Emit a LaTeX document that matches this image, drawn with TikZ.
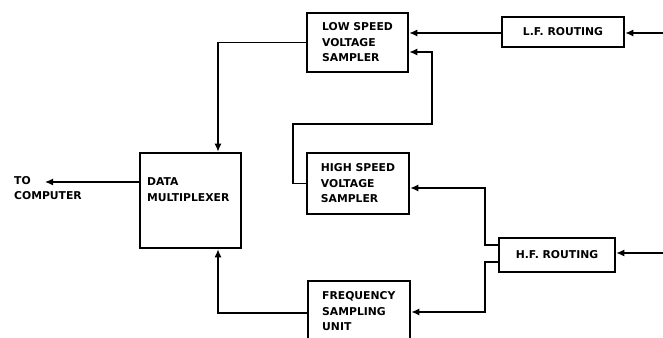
\documentclass[tikz,border=0pt]{standalone}
\usepackage{fontspec}
\setmainfont{DejaVu Sans}
\usetikzlibrary{arrows.meta}
\begin{document}
\begin{tikzpicture}[x=1pt,y=-1pt,
  lbl/.style={font=\bfseries\fontsize{10.8}{15.5}\selectfont, align=left, inner sep=0pt},
  block/.style={draw, line width=2.6pt, inner sep=0pt, lbl},
  wire/.style={line width=1.3pt},
  tip/.style={-{Latex[length=8pt,width=7pt]}}]
\useasboundingbox (0,0) rectangle (663,337);
\clip (0,0) rectangle (663,337);

% blocks
\node[block, minimum width=101pt, minimum height=95pt] (mux) at (190.5,200.5) {};
\node[lbl, anchor=west] (muxtext) at (147,189.5) {DATA\\MULTIPLEXER};
\node[block, minimum width=101pt, minimum height=59pt] (ls) at (357.5,42.5) {LOW SPEED\\VOLTAGE\\SAMPLER};
\node[block, minimum width=122pt, minimum height=30pt] (lf) at (563,32) {L.F. ROUTING};
\node[block, minimum width=102pt, minimum height=61pt] (hs) at (358,183.5) {HIGH SPEED\\VOLTAGE\\SAMPLER};
\node[block, minimum width=116pt, minimum height=34pt] (hf) at (557,255) {H.F. ROUTING};
\node[block, minimum width=102pt, minimum height=69pt] (fq) at (359,315.5) {};
\node[lbl, anchor=west] (fqtext) at (322,311.5) {FREQUENCY\\SAMPLING\\UNIT};
\node[lbl, anchor=west] (comptext) at (14,188) {TO\\COMPUTER};

% routing points
\coordinate (colA) at (218,0);
\coordinate (comp) at (45,182);
\coordinate (rowA) at (0,33);
\coordinate (lfin) at (663,33);
\coordinate (bendA) at (293,124);
\coordinate (bendB) at (432,52);
\coordinate (rowB) at (0,245);
\coordinate (rowC) at (0,262);
\coordinate (hsin) at (485,188);
\coordinate (fqin) at (485,312);
\coordinate (hfin) at (663,253);
\coordinate (rowD) at (0,313);

% connectors
\draw[wire,tip] (ls.west) -| (colA |- mux.north);
\draw[wire,tip] (mux.west |- comp) -- (comp);
\draw[wire,tip] (lf.west |- rowA) -- (ls.east |- rowA);
\draw[wire,tip] (lfin) -- (lf.east |- lfin);
\draw[wire,tip] (hs.west) -| (bendA) -| (bendB) -- (ls.east |- bendB);
\draw[wire,tip] (hf.west |- rowB) -| (hsin) -- (hs.east |- hsin);
\draw[wire,tip] (hf.west |- rowC) -| (fqin) -- (fq.east |- fqin);
\draw[wire,tip] (hfin) -- (hf.east |- hfin);
\draw[wire,tip] (fq.west |- rowD) -| (colA |- mux.south);
\end{tikzpicture}
\end{document}
